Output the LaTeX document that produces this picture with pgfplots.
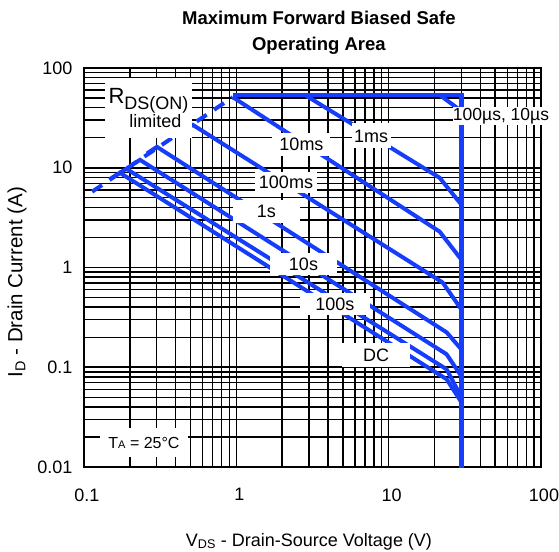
\documentclass[border=0pt]{standalone}
\usepackage{fontspec}
\setmainfont{Liberation Sans}
\usepackage{pgfplots}
\pgfplotsset{compat=1.18}
\definecolor{cblue}{RGB}{22,62,250}
\begin{document}
\begin{tikzpicture}
\begin{axis}[
  at={(84pt,84pt)}, anchor=south west,
  width=457pt, height=399pt, scale only axis,
  xmode=log, ymode=log,
  xmin=0.1, xmax=100, ymin=0.01, ymax=100,
  grid=both,
  major grid style={black, line width=1.6pt},
  minor grid style={black, line width=1.4pt},
  axis line style={black, line width=1.6pt},
  tick style={draw=none},
  xtick={0.1,1,10,100}, xticklabels={0.1,1,10,100},
  ytick={0.01,0.1,1,10,100}, yticklabels={0.01,0.1,1,10,100},
  minor xtick={0.2,0.3,0.4,0.5,0.6,0.7,0.8,0.9,2,3,4,5,6,7,8,9,20,30,40,50,60,70,80,90},
  minor ytick={0.02,0.03,0.04,0.05,0.06,0.07,0.08,0.09,0.2,0.3,0.4,0.5,0.6,0.7,0.8,0.9,2,3,4,5,6,7,8,9,20,30,40,50,60,70,80,90},
  xticklabel style={font=\fontsize{18}{18}\selectfont, yshift=-18pt, xshift=3pt},
  yticklabel style={font=\fontsize{18}{18}\selectfont, xshift=-8pt},
  clip=false,
]
% RDS(on) limit, dashed
\addplot[cblue, line width=4pt, dash pattern=on 12pt off 9pt] coordinates {(0.113,5.75) (0.948,51)};
% 100us / 10us top limit
\addplot[cblue, line width=4pt] coordinates {(0.948,54) (30,54)};
\addplot[cblue, line width=4pt] coordinates {(21.5,54) (30,37)};
% 1 ms
\addplot[cblue, line width=4pt] coordinates {(2.8,54) (21.6,7.94) (30,4.27)};
% 10 ms
\addplot[cblue, line width=4pt] coordinates {(0.948,51) (21.6,2.29) (30,1.2)};
% 100 ms
\addplot[cblue, line width=4pt] coordinates {(0.445,23.1) (0.518,26.9) (22.6,0.708) (30,0.38)};
% 1 s
\addplot[cblue, line width=4pt] coordinates {(0.259,13.9) (0.301,16.2) (24,0.224) (30,0.151)};
% 10 s
\addplot[cblue, line width=4pt] coordinates {(0.2,10.3) (0.233,12.0) (24,0.135) (30,0.0813)};
% 100 s
\addplot[cblue, line width=4pt] coordinates {(0.172,8.91) (0.19,9.75) (24,0.0955) (30,0.0501)};
% DC
\addplot[cblue, line width=4pt] coordinates {(0.148,7.7) (0.172,8.91) (24,0.0759) (30,0.0447)};
% vertical 30 V limit
\addplot[cblue, line width=5.5pt] coordinates {(30,56) (30,0.0097)};

% labels
\node[fill=white, inner sep=0pt, minimum width=87pt, minimum height=60pt, align=center,
  font=\fontsize{18}{21}\selectfont] at (rel axis cs:0.1411,0.8997)
  {{\fontsize{22}{22}\selectfont R}\raisebox{-6pt}{DS(ON)}\\[1pt]\hspace*{14pt}limited};
\node[fill=white, inner sep=0pt, minimum width=58pt, minimum height=23pt,
  font=\fontsize{18}{18}\selectfont] at (rel axis cs:0.4759,0.8083) {10ms};
\node[fill=white, inner sep=0pt, minimum width=39pt, minimum height=25pt,
  font=\fontsize{18}{18}\selectfont] at (rel axis cs:0.628,0.8296) {1ms};
\node[fill=white, inner sep=0pt, minimum width=97pt, minimum height=18pt,
  font=\fontsize{17.5}{17.5}\selectfont] at (rel axis cs:0.9125,0.8797) {100µs, 10µs};
\node[fill=white, inner sep=0pt, minimum width=62pt, minimum height=21pt,
  font=\fontsize{18}{18}\selectfont] at (rel axis cs:0.442,0.713) {100ms};
\node[fill=white, inner sep=0pt, minimum width=67pt, minimum height=23pt,
  font=\fontsize{18}{18}\selectfont] at (rel axis cs:0.3993,0.6404) {1s};
\node[fill=white, inner sep=0pt, minimum width=67pt, minimum height=22pt,
  font=\fontsize{18}{18}\selectfont] at (rel axis cs:0.4803,0.5088) {10s};
\node[fill=white, inner sep=0pt, minimum width=70pt, minimum height=22pt,
  font=\fontsize{18}{18}\selectfont] at (rel axis cs:0.549,0.4085) {100s};
\node[fill=white, inner sep=0pt, minimum width=68pt, minimum height=24pt,
  font=\fontsize{18}{18}\selectfont] at (rel axis cs:0.639,0.2807) {DC};
\node[fill=white, inner sep=0pt, minimum width=88pt, minimum height=29pt,
  font=\fontsize{16}{16}\selectfont] at (rel axis cs:0.1313,0.0614)
  {T{\fontsize{11}{11}\selectfont A} = 25\textdegree C};

% titles and axis labels
\node[anchor=base, font=\bfseries\fontsize{18.5}{18.5}\selectfont] at (rel axis cs:0.514,1.1078) {Maximum Forward Biased Safe};
\node[anchor=base, font=\bfseries\fontsize{18.5}{18.5}\selectfont] at (rel axis cs:0.514,1.0426) {Operating Area};
\node[anchor=base, font=\fontsize{18}{18}\selectfont] at (rel axis cs:0.4923,-0.198)
  {V\textsubscript{DS} - Drain-Source Voltage (V)};
\node[rotate=90, anchor=center, font=\fontsize{20.5}{20.5}\selectfont] at (rel axis cs:-0.1466,0.463)
  {I\textsubscript{D} - Drain Current (A)};
\end{axis}
\pgfresetboundingbox
\path[use as bounding box] (0,0) rectangle (559pt,551pt);
\end{tikzpicture}
\end{document}
